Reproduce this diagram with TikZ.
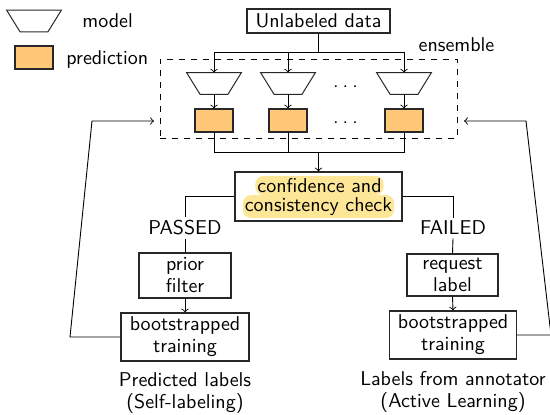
\documentclass[tikz,border=0pt]{standalone}
\definecolor{predfill}{RGB}{255,200,120}
\definecolor{hilite}{RGB}{253,230,150}
\definecolor{edge}{RGB}{40,40,40}
% trapezoid drawn over the box of a named (invisible) node
\newcommand{\trapbox}[1]{%
  \draw[draw=edge,line width=0.5pt] (#1.north west) -- (#1.north east)
    -- ([xshift=-6.75pt]#1.south east) -- ([xshift=6.75pt]#1.south west) -- cycle;}
\newcommand{\threedots}{.\kern2pt.\kern2pt.}
\begin{document}
\begin{tikzpicture}[x=0.5pt,y=-0.5pt,
  font=\sffamily,
  cn/.style={draw=black,line width=0.45pt},
  box/.style={draw=edge,line width=0.55pt,rectangle,inner sep=0pt,align=center},
  model/.style={rectangle,minimum width=27pt,minimum height=10.5pt,inner sep=0pt},
  pred/.style={draw=edge,line width=0.55pt,rectangle,fill=predfill,minimum width=19pt,minimum height=11.5pt,inner sep=0pt},
  tag/.style={inner sep=1.5pt},
  hl/.style={fill=hilite,rounded corners=4pt,inner sep=1pt,inner ysep=1.2pt},
  arr/.style={cn,->}]
\useasboundingbox (0,0) rectangle (550,414);

% legend
\node[model] (lgmodel) at (34,21) {};
\trapbox{lgmodel}
\node[anchor=west,inner sep=0pt] (lgmodeltxt) at (82,21) {model};
\node[pred] (lgpred) at (34,57.5) {};
\node[anchor=west,inner sep=0pt] (lgpredtxt) at (66,59) {prediction};

% input
\node[box,minimum width=71.5pt,minimum height=12pt] (data) at (318.5,21) {Unlabeled data};

% ensemble
\node[draw=black,dashed,line width=0.45pt,rectangle,minimum width=148.5pt,minimum height=39.5pt,inner sep=0pt] (ens) at (308.5,98.5) {};
\node[inner sep=0pt] (enslbl) at (456.5,45) {ensemble};

\node[model] (m1) at (214,83.5) {};
\node[model] (m2) at (288,83.5) {};
\node[model] (m3) at (404,83.5) {};
\trapbox{m1}
\trapbox{m2}
\trapbox{m3}
\node[pred] (p1) at (214,120.5) {};
\node[pred] (p2) at (288,120.5) {};
\node[pred] (p3) at (404,120.5) {};
\node[inner sep=0pt] (dots1) at (345.5,87) {\threedots};
\node[inner sep=0pt] (dots2) at (345.5,123) {\threedots};

\coordinate (split) at (318.5,52);
\coordinate (merge) at (318.5,152);

% check
\node[box,minimum width=83.5pt,minimum height=24.5pt] (conf) at (318.5,196.5) {};
\node[hl] (hl1) at (319.5,185.5) {confidence and};
\node[hl] (hl2) at (318.5,206.5) {consistency check};

\node[tag] (passed) at (185,228) {PASSED};
\node[tag] (failed) at (453,228) {FAILED};

\node[box,minimum width=46pt,minimum height=22.5pt] (prior) at (185,275.5) {prior\\[-1pt]filter};
\node[box,minimum width=64pt,minimum height=24pt] (boot1) at (185,337) {bootstrapped\\[-1pt]training};
\node[box,minimum width=45.5pt,minimum height=21pt] (req) at (452.5,275) {request\\[-1pt]label};
\node[box,minimum width=63.5pt,minimum height=24pt] (boot2) at (453,335) {bootstrapped\\[-1pt]training};

\node[align=center,inner sep=0pt] (cap1) at (185,393.5) {Predicted labels\\[-1pt](Self-labeling)};
\node[align=center,inner sep=0pt] (cap2) at (453,391.5) {Labels from annotator\\[-1pt](Active Learning)};

% feedback corners
\coordinate (lb) at (70,337);
\coordinate (lt) at (92,121);
\coordinate (lin) at (154,121);
\coordinate (rb) at (551,335);
\coordinate (rt) at (526,121);
\coordinate (rin) at (464,121);

% connectors
\draw[cn] (data.south) -- (split);
\draw[arr] (split) -| (m1.north);
\draw[arr] (split) -| (m2.north);
\draw[arr] (split) -| (m3.north);
\draw[arr] (m1.south) -- (p1.north);
\draw[arr] (m2.south) -- (p2.north);
\draw[arr] (m3.south) -- (p3.north);
\draw[cn] (p1.south) |- (merge);
\draw[cn] (p2.south) |- (merge);
\draw[cn] (p3.south) |- (merge);
\draw[arr] (merge) -- (conf.north);

\draw[cn] (conf.west) -| (passed.north);
\draw[cn] (passed.south) -- (prior.north);
\draw[arr] (prior.south) -- (boot1.north);
\draw[cn] (conf.east) -| (failed.north);
\draw[cn] (failed.south) -- (req.north);
\draw[arr] (req.south) -- (boot2.north);

\draw[arr] (boot1.west) -- (lb) -- (lt) -- (lin);
\draw[arr] (boot2.east) -- (rb) -- (rt) -- (rin);
\end{tikzpicture}
\end{document}
